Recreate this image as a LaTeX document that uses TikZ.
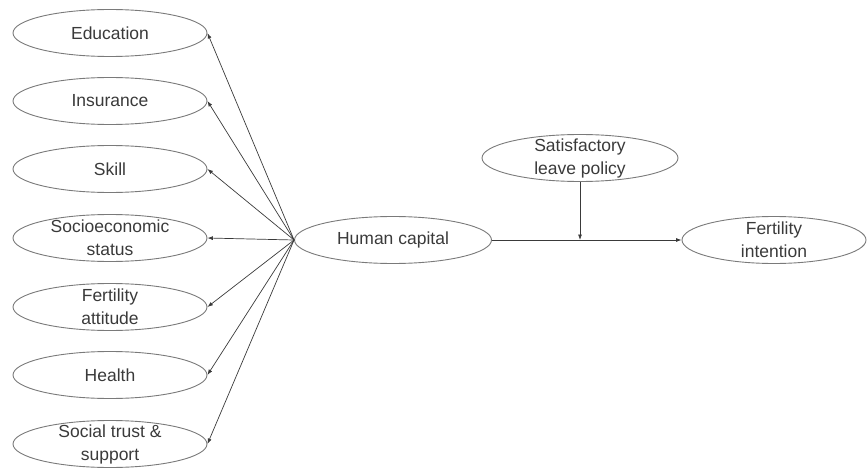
\documentclass[tikz,border=0pt]{standalone}
\usepackage{fontspec}
\setmainfont{Liberation Sans}
\usetikzlibrary{shapes.geometric,arrows.meta}
\definecolor{edgegray}{HTML}{7A7A7A}
\definecolor{inkgray}{HTML}{3A3A3A}
\tikzset{
  oval/.style={draw=edgegray, line width=0.9pt, ellipse, inner sep=0pt,
    minimum width=194pt, minimum height=47pt},
  txt/.style={text=inkgray, align=center, inner sep=0pt,
    font=\fontsize{17.5}{23}\selectfont},
  link/.style={draw=inkgray, line width=0.7pt, -{Latex[length=5.5pt,width=4pt]}}
}

\begin{document}
\begin{tikzpicture}[x=1pt,y=-1pt]
\useasboundingbox (0,0) rectangle (867,468);

% left column
\node[oval, label={[txt]center:Education}] (edu) at (110,33) {};
\node[oval, label={[txt]center:Insurance}] (ins) at (110,101) {};
\node[oval, label={[txt]center:Skill}] (skl) at (110,169) {};
\node[oval, label={[txt]center:{Socioeconomic\\status}}] (ses) at (110,238) {};
\node[oval, label={[txt]center:{Fertility\\attitude}}] (att) at (110,307) {};
\node[oval, label={[txt]center:Health}] (hlt) at (110,375) {};
\node[oval, label={[txt]center:{Social trust \&\\support}}] (trs) at (110,444) {};

% middle and right
\node[oval, minimum width=197pt, label={[txt]center:Human capital}] (hc) at (393,240) {};
\node[oval, minimum width=196pt, label={[txt]center:{Satisfactory\\leave policy}}] (sat) at (580,158) {};
\node[oval, minimum width=184pt, label={[txt]center:{Fertility\\intention}}] (fi) at (774,240) {};

\foreach \n in {edu,ins,skl,ses,att,hlt,trs}{
  \draw[link] (hc.west) -- (\n.east);
}
\draw[link] (hc.east) -- (fi.west);
\coordinate (mod) at (sat.south |- hc.east);
\draw[link] (sat.south) -- (mod);

\end{tikzpicture}
\end{document}
